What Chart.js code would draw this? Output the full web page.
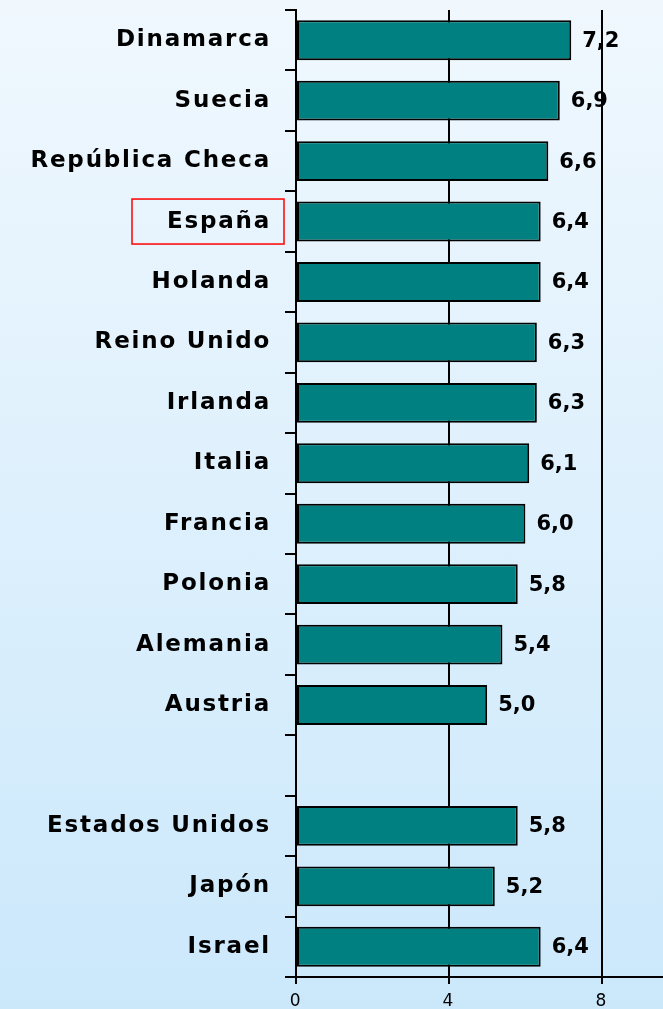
<!DOCTYPE html>
<html>
<head>
<meta charset="utf-8">
<script src="https://cdn.jsdelivr.net/npm/chart.js@4"></script>
<style>
  html, body { margin: 0; padding: 0; }
  body { width: 663px; height: 1009px; overflow: hidden;
    background: linear-gradient(to bottom, #f0f8fe 0%, #cbe8fb 100%); }
  #wrap { position: relative; width: 663px; height: 1009px; }
</style>
</head>
<body>
<div id="wrap"><canvas id="chart"></canvas></div>
<script>
const countries = [
  "Dinamarca", "Suecia", "República Checa", "España", "Holanda",
  "Reino Unido", "Irlanda", "Italia", "Francia", "Polonia",
  "Alemania", "Austria", "", "Estados Unidos", "Japón", "Israel",
];
const values = [7.2, 6.9, 6.6, 6.4, 6.4, 6.3, 6.3, 6.1, 6.0, 5.8, 5.4, 5.0, null, 5.8, 5.2, 6.4];
const xTicks = [0, 4, 8];
const highlight = "España";

const labelFont = "'DejaVu Sans', Verdana, sans-serif";

// value labels and red box round the highlighted country
const valuePlugin = {
  id: "values",
  afterDatasetsDraw(chart) {
    const ctx = chart.ctx;
    const meta = chart.getDatasetMeta(0);
    ctx.save();
    ctx.letterSpacing = "0px";
    ctx.font = "bold 21px " + labelFont;
    ctx.fillStyle = "#000";
    ctx.textAlign = "left";
    ctx.textBaseline = "middle";
    meta.data.forEach((bar, i) => {
      if (values[i] == null) return;
      ctx.fillText(values[i].toFixed(1).replace(".", ","), bar.x + 11, bar.y + 1);
    });
    const y = chart.scales.y;
    const idx = countries.indexOf(highlight);
    const cy = y.getPixelForValue(idx);
    const right = y.right - 12;
    ctx.strokeStyle = "#ff0000";
    ctx.lineWidth = 1.5;
    ctx.strokeRect(right - 152, cy - 22.5, 152, 45);
    ctx.restore();
  },
};

new Chart(document.getElementById("chart"), {
  type: "bar",
  data: {
    labels: countries,
    datasets: [
      {
        data: values,
        backgroundColor: "#008080",
        borderColor: "#000",
        borderWidth: 2,
        borderSkipped: false,
        categoryPercentage: 1,
        barPercentage: 0.66,
      },
    ],
  },
  options: {
    indexAxis: "y",
    responsive: true,
    maintainAspectRatio: false,
    animation: false,
    layout: { padding: { top: 10, right: 0, left: 0, bottom: 0 } },
    plugins: { legend: { display: false }, tooltip: { enabled: false } },
    scales: {
      x: {
        min: 0,
        max: 9.6,
        afterFit(scale) {
          scale.height = 32;
          scale.paddingLeft = 0;
          scale.paddingRight = 0;
        },
        afterBuildTicks(scale) { scale.ticks = xTicks.map((v) => ({ value: v })); },
        ticks: {
          color: "#000",
          font: { family: labelFont, size: 17 },
          padding: 7,
        },
        grid: { color: "#000", lineWidth: 2, tickLength: 7, drawTicks: true },
        border: { color: "#000", width: 2 },
      },
      y: {
        afterFit(scale) {
          scale.width = 296;
          scale.paddingTop = 0;
          scale.paddingBottom = 0;
        },
        ticks: {
          color: "#000",
          font: { family: labelFont, size: 23, weight: "bold" },
          padding: 14,
          autoSkip: false,
        },
        grid: { drawOnChartArea: false, color: "#000", lineWidth: 2, tickLength: 11 },
        border: { color: "#000", width: 2 },
      },
    },
  },
  plugins: [
    {
      id: "spacing",
      beforeDraw(chart) { chart.ctx.letterSpacing = "1.8px"; },
      afterDatasetsDraw(chart) { chart.ctx.letterSpacing = "0px"; },
    },
    valuePlugin,
  ],
});
</script>
</body>
</html>
